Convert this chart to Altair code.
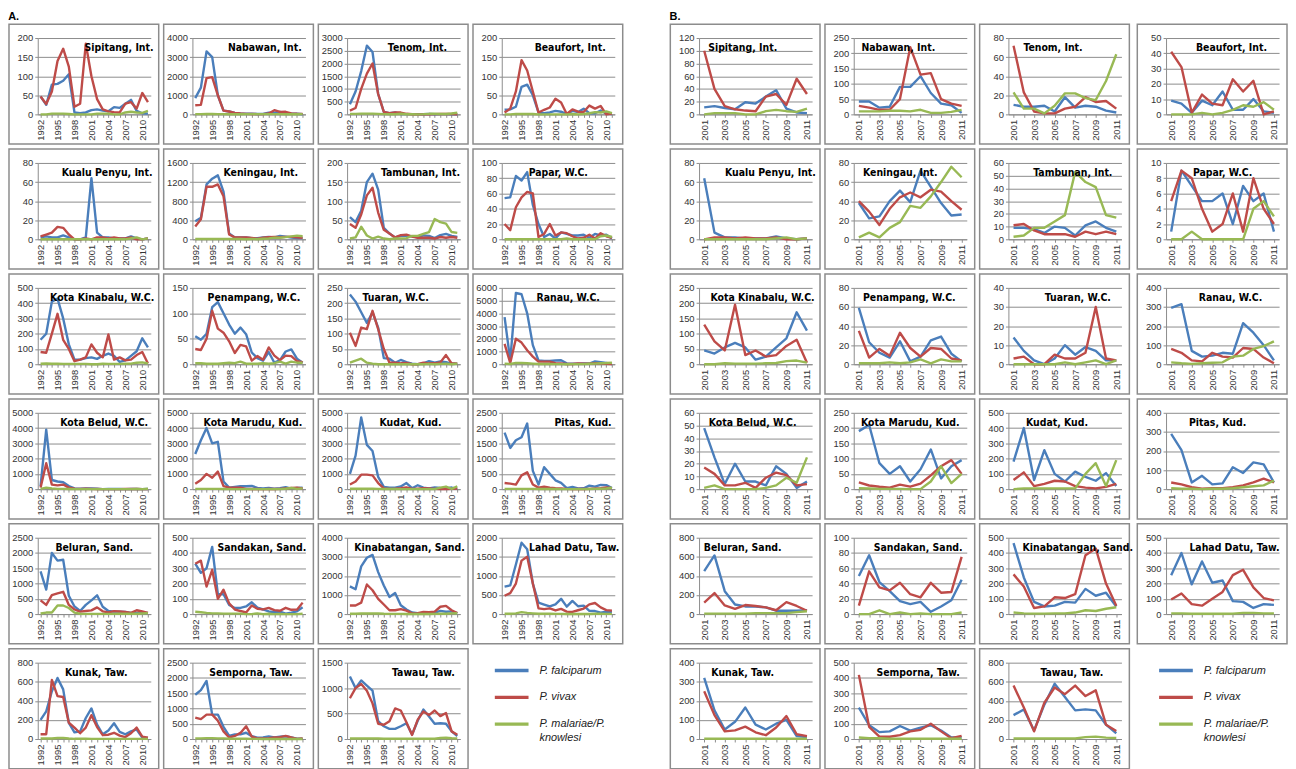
import altair as alt
import pandas as pd

SERIES = ["P. falciparum", "P. vivax", "P. malariae/P. knowlesi"]
LEGEND_LABELS = ["P. falciparum", "P. vivax", "P. malariae/P.\nknowlesi"]
COLORS = ["#4a7ebb", "#be4b48", "#98b954"]

YEARS_A = list(range(1992, 2012))
YEARS_B = list(range(2001, 2012))
LABELS_A = [1992, 1995, 1998, 2001, 2004, 2007, 2010]
LABELS_B = [2001, 2003, 2005, 2007, 2009, 2011]

DISTRICTS = ["Sipitang, Int.", "Nabawan, Int.", "Tenom, Int.", "Beaufort, Int.",
             "Kualu Penyu, Int.", "Keningau, Int.", "Tambunan, Int.", "Papar, W.C.",
             "Kota Kinabalu, W.C.", "Penampang, W.C.", "Tuaran, W.C.", "Ranau, W.C.",
             "Kota Belud, W.C.", "Kota Marudu, Kud.", "Kudat, Kud.", "Pitas, Kud.",
             "Beluran, Sand.", "Sandakan, Sand.", "Kinabatangan, Sand.", "Lahad Datu, Taw.",
             "Kunak, Taw.", "Semporna, Taw.", "Tawau, Taw."]

# y-axis maxima and steps
YMAX_A = [200, 4000, 3000, 200, 80, 1600, 200, 100, 500, 150, 250, 6000,
          5000, 5000, 5000, 2500, 2500, 500, 4000, 2000, 800, 2500, 1500]
YSTEP_A = [50, 1000, 500, 50, 20, 400, 50, 20, 100, 50, 50, 1000,
           1000, 1000, 1000, 500, 500, 100, 1000, 500, 200, 500, 500]
YMAX_B = [120, 250, 80, 50, 80, 80, 60, 10, 250, 80, 40, 400,
          60, 250, 500, 400, 800, 100, 500, 500, 400, 500, 800]
YSTEP_B = [20, 50, 20, 10, 20, 20, 10, 2, 50, 20, 10, 100,
           10, 50, 100, 100, 200, 20, 100, 100, 100, 100, 200]

# Panel A, 1992-2000 (2001-2011 are the same values as panel B)
PF_A_EARLY = [
    [47, 25, 78, 80, 88, 105, 5, 3, 5],
    [850, 1400, 3300, 3000, 1000, 200, 150, 80, 50],
    [400, 900, 1700, 2700, 2450, 800, 100, 50, 80],
    [12, 13, 20, 72, 78, 50, 5, 3, 5],
    [2, 3, 2, 2, 4, 2, 0, 0, 2],
    [380, 450, 1150, 1270, 1340, 1000, 120, 40, 40],
    [58, 45, 75, 150, 172, 130, 30, 15, 5],
    [54, 55, 83, 77, 88, 45, 20, 3, 7],
    [160, 200, 410, 430, 300, 130, 30, 30, 40],
    [55, 48, 60, 112, 122, 100, 78, 60, 72],
    [228, 205, 170, 135, 170, 120, 20, 18, 5],
    [3700, 300, 5600, 5500, 4000, 1500, 300, 250, 250],
    [200, 3900, 600, 500, 450, 200, 50, 30, 50],
    [2300, 3200, 4000, 3000, 3100, 500, 100, 150, 200],
    [1000, 2200, 4700, 2900, 2500, 800, 150, 100, 100],
    [1850, 1350, 1600, 1700, 2150, 600, 150, 720, 500],
    [1400, 800, 2000, 1750, 1780, 600, 250, 100, 300],
    [330, 270, 300, 440, 130, 130, 60, 40, 40],
    [1450, 1300, 2500, 2950, 3100, 2200, 1500, 900, 1100],
    [720, 750, 1300, 1870, 1700, 800, 300, 250, 200],
    [200, 290, 500, 640, 520, 170, 70, 80, 220],
    [1450, 1600, 1900, 800, 800, 400, 100, 150, 150],
    [1230, 1000, 1150, 1050, 950, 350, 250, 200, 200],
]
PV_A_EARLY = [
    [47, 27, 60, 140, 172, 125, 20, 28, 185],
    [480, 500, 1900, 1950, 1000, 200, 150, 80, 50],
    [150, 250, 1000, 1600, 2000, 800, 100, 50, 80],
    [5, 15, 60, 142, 115, 60, 5, 12, 18],
    [3, 5, 7, 13, 12, 5, 0, 0, 1],
    [270, 420, 1100, 1100, 1150, 900, 100, 40, 40],
    [40, 30, 65, 115, 135, 70, 25, 15, 5],
    [20, 12, 42, 55, 62, 60, 3, 7, 20],
    [80, 75, 200, 330, 160, 100, 20, 30, 45],
    [30, 28, 50, 105, 70, 62, 45, 22, 38],
    [103, 60, 120, 115, 175, 115, 50, 5, 5],
    [1600, 100, 2000, 1700, 1100, 600, 200, 200, 200],
    [100, 1700, 300, 250, 300, 100, 30, 20, 30],
    [350, 600, 1000, 750, 1150, 200, 100, 100, 100],
    [300, 500, 950, 950, 900, 400, 50, 20, 30],
    [200, 180, 150, 450, 550, 150, 50, 80, 50],
    [450, 300, 620, 680, 730, 300, 150, 80, 100],
    [330, 350, 180, 290, 100, 160, 70, 30, 20],
    [450, 450, 600, 1550, 1250, 800, 500, 200, 200],
    [480, 550, 800, 1400, 1500, 800, 150, 130, 150],
    [50, 50, 620, 450, 440, 170, 120, 60, 120],
    [700, 650, 800, 800, 600, 250, 50, 100, 200],
    [800, 1000, 1080, 950, 700, 300, 280, 350, 600],
]
PM_A_EARLY = [
    [0, 0, 2, 2, 2, 1, 0, 0, 0],
    [10, 10, 20, 20, 10, 10, 5, 5, 5],
    [20, 20, 30, 30, 30, 20, 10, 5, 5],
    [0, 0, 1, 1, 1, 1, 0, 0, 0],
    [0, 0, 0, 0, 0, 0, 0, 0, 0],
    [5, 5, 5, 5, 5, 5, 5, 5, 5],
    [2, 5, 33, 10, 2, 7, 2, 0, 2],
    [0, 0, 0, 0, 0, 0, 0, 0, 0],
    [3, 5, 3, 3, 2, 2, 2, 2, 2],
    [2, 2, 1, 1, 1, 2, 3, 2, 5],
    [5, 12, 18, 5, 2, 0, 0, 0, 0],
    [50, 20, 100, 100, 80, 50, 20, 20, 20],
    [20, 100, 50, 20, 20, 10, 5, 5, 5],
    [20, 20, 20, 20, 20, 10, 5, 5, 5],
    [30, 30, 30, 30, 30, 20, 10, 10, 10],
    [10, 10, 10, 10, 10, 10, 5, 5, 5],
    [20, 50, 50, 280, 280, 200, 50, 10, 5],
    [15, 12, 8, 5, 5, 3, 3, 3, 3],
    [20, 20, 30, 30, 30, 40, 20, 10, 10],
    [10, 10, 20, 50, 30, 20, 10, 10, 10],
    [5, 5, 5, 10, 10, 5, 2, 2, 2],
    [20, 20, 30, 30, 20, 20, 10, 10, 10],
    [10, 10, 10, 10, 10, 10, 5, 5, 5],
]

# Panel B, 2001-2011
PF_B = [
    [11, 13, 10, 8, 19, 17, 28, 38, 9, 3, 2],
    [42, 42, 22, 25, 90, 90, 125, 70, 35, 30, 5],
    [10, 8, 8, 9, 3, 18, 7, 9, 8, 4, 2],
    [9, 7, 1, 9, 6, 15, 3, 3, 10, 2, 1],
    [64, 7, 2, 2, 1, 1, 1, 3, 1, 0, 1],
    [38, 22, 24, 40, 51, 39, 72, 55, 38, 25, 26],
    [9, 9, 8, 5, 10, 9, 3, 11, 14, 9, 6],
    [1, 9, 7, 5, 5, 6, 2, 7, 5, 6, 1],
    [45, 35, 55, 70, 55, 15, 25, 55, 85, 170, 110],
    [59, 23, 12, 7, 24, 3, 8, 25, 29, 11, 3],
    [14, 7, 2, 0, 3, 10, 5, 9, 7, 2, 2],
    [295, 315, 70, 40, 45, 60, 55, 215, 165, 100, 20],
    [48, 25, 4, 20, 6, 6, 3, 18, 12, 1, 6],
    [190, 210, 85, 50, 75, 25, 65, 130, 35, 75, 95],
    [180, 400, 60, 255, 100, 50, 115, 80, 55, 105, 20],
    [290, 205, 35, 70, 25, 30, 115, 85, 140, 130, 35],
    [450, 615, 240, 100, 80, 80, 70, 35, 35, 35, 40],
    [50, 77, 42, 30, 17, 13, 16, 3, 10, 18, 45],
    [465, 240, 80, 50, 55, 80, 75, 165, 120, 140, 50],
    [255, 400, 195, 345, 205, 220, 85, 80, 40, 65, 60],
    [320, 150, 50, 90, 165, 75, 50, 80, 100, 15, 10],
    [205, 90, 45, 50, 85, 55, 75, 90, 55, 10, 10],
    [250, 310, 90, 360, 580, 440, 300, 310, 300, 150, 60],
]
PV_B = [
    [100, 40, 13, 8, 6, 5, 28, 32, 15, 56, 32],
    [28, 22, 15, 15, 50, 220, 130, 135, 50, 35, 28],
    [72, 23, 3, 1, 1, 6, 8, 18, 13, 14, 6],
    [41, 31, 1, 13, 7, 6, 23, 15, 22, 0, 2],
    [0, 2, 2, 1, 2, 1, 1, 2, 0, 0, 1],
    [40, 29, 15, 32, 44, 49, 44, 52, 50, 40, 31],
    [11, 12, 7, 4, 4, 4, 2, 6, 4, 6, 4],
    [5, 9, 8, 4, 1, 2, 6, 1, 8, 4, 2],
    [130, 75, 45, 195, 30, 45, 25, 30, 60, 80, 5],
    [35, 7, 16, 9, 33, 17, 8, 17, 16, 6, 4],
    [3, 4, 0, 0, 5, 3, 3, 6, 30, 3, 2],
    [80, 60, 20, 15, 60, 40, 35, 85, 80, 35, 5],
    [17, 12, 3, 3, 5, 1, 9, 13, 11, 3, 4],
    [22, 12, 8, 5, 15, 8, 18, 45, 75, 95, 50],
    [60, 110, 20, 35, 55, 50, 20, 10, 5, 15, 35],
    [35, 25, 10, 2, 5, 5, 10, 20, 35, 55, 35],
    [120, 220, 90, 55, 95, 85, 70, 40, 125, 85, 35],
    [11, 56, 35, 31, 41, 26, 22, 41, 28, 29, 75],
    [260, 180, 40, 50, 110, 105, 130, 385, 430, 200, 55],
    [95, 135, 65, 55, 100, 145, 255, 290, 175, 105, 90],
    [250, 125, 40, 45, 65, 35, 20, 60, 120, 25, 15],
    [420, 80, 15, 15, 25, 50, 60, 100, 50, 5, 20],
    [560, 330, 80, 380, 540, 470, 560, 450, 510, 150, 85],
]
PM_B = [
    [0, 2, 2, 2, 0, 0, 5, 7, 5, 4, 9],
    [10, 10, 10, 12, 12, 10, 15, 5, 5, 8, 15],
    [23, 6, 6, 1, 9, 22, 22, 17, 15, 35, 63],
    [0, 0, 0, 1, 0, 1, 3, 6, 5, 8, 3],
    [0, 0, 0, 0, 0, 0, 0, 1, 2, 0, 1],
    [2, 7, 2, 12, 18, 35, 33, 45, 60, 76, 65],
    [2, 3, 9, 9, 14, 19, 53, 45, 41, 19, 17],
    [0, 0, 1, 0, 0, 0, 0, 0, 4, 5, 3],
    [0, 0, 3, 2, 2, 2, 3, 4, 10, 12, 5],
    [1, 1, 1, 2, 1, 2, 5, 1, 5, 3, 3],
    [0, 0, 0, 0, 0, 1, 0, 1, 2, 0, 2],
    [10, 5, 2, 5, 8, 10, 40, 45, 80, 95, 120],
    [1, 3, 0, 0, 0, 0, 1, 3, 9, 5, 25],
    [3, 2, 1, 1, 1, 0, 0, 25, 75, 20, 50],
    [0, 5, 5, 5, 5, 5, 5, 100, 170, 20, 190],
    [5, 2, 2, 0, 2, 2, 5, 10, 15, 20, 45],
    [5, 5, 5, 5, 5, 10, 10, 10, 10, 20, 30],
    [0, 0, 5, 0, 2, 0, 1, 0, 0, 0, 2],
    [10, 5, 3, 3, 5, 5, 10, 25, 20, 35, 45],
    [5, 5, 2, 2, 2, 2, 3, 8, 8, 5, 5],
    [1, 1, 1, 1, 1, 1, 1, 1, 1, 1, 1],
    [10, 5, 5, 2, 2, 2, 2, 2, 2, 2, 2],
    [5, 5, 5, 5, 5, 5, 5, 20, 25, 15, 10],
]

# ---------------- layout / style (not data) ----------------
W, H = 114, 77
BOX_L, BOX_R, BOX_T, BOX_B = -29, W + 8, -14, H + 30
TITLE_X_A = [82, 73, 71, 69, 70, 69, 74, 57, 65, 62, 49, 67,
             67, 61, 64, 82, 57, 70, 63, 73, 59, 59, 77]
TITLE_X_B = [44, 45, 45, 66, 72, 47, 65, 57, 64, 56, 70, 65,
             54, 57, 49, 52, 44, 65, 70, 69, 44, 65, 64]
LABEL_FONT = "Liberation Sans"
TITLE_FONT = "DejaVu Sans Condensed, Liberation Sans"
BORDER = "#8c8c8c"
AXIS_GREY = "#8c8c8c"


def border_layer(visible=True):
    return alt.Chart(pd.DataFrame({"b": [0]})).mark_rect(
        fill="white", fillOpacity=0,
        stroke=BORDER if visible else "white", strokeOpacity=1 if visible else 0,
        strokeWidth=1.5,
    ).encode(x=alt.value(BOX_L), x2=alt.value(BOX_R),
             y=alt.value(BOX_T), y2=alt.value(BOX_B))


def make_cell(name, years, labels, pf, pv, pm, ymax, ystep, tx):
    rows = []
    for s, vals in zip(SERIES, [pf, pv, pm]):
        for yr, v in zip(years, vals):
            rows.append({"year": yr, "series": s, "cases": v})
    df = pd.DataFrame(rows)
    x = alt.X("year:Q", title=None,
              scale=alt.Scale(domain=[years[0] - 0.5, years[-1] + 0.5], nice=False, zero=False),
              axis=alt.Axis(values=years, format="d", labelAngle=270,
                            labelExpr=f"indexof({labels}, datum.value) >= 0 ? datum.label : ''",
                            labelOverlap=False, labelFlush=False, grid=False,
                            tickSize=3, labelPadding=2))
    y = alt.Y("cases:Q", title=None,
              scale=alt.Scale(domain=[0, ymax], nice=False, zero=True),
              axis=alt.Axis(values=list(range(0, ymax + 1, ystep)), format="d",
                            grid=True, tickSize=3, labelPadding=2,
                            labelFlush=False, labelOverlap=False))
    base = alt.Chart(df).encode(x=x, y=y)
    lines = [
        base.transform_filter(alt.datum.series == s).mark_line(
            color=c, strokeWidth=2.4, strokeJoin="round")
        for s, c in zip(SERIES, COLORS)
    ]
    title = alt.Chart(pd.DataFrame({"t": [name]})).mark_text(
        font=TITLE_FONT, fontWeight="bold", fontSize=10.5, color="#000000",
        align="center", baseline="middle",
    ).encode(text="t:N", x=alt.value(tx), y=alt.value(10))
    return alt.layer(border_layer(), *lines, title).properties(width=W, height=H)


def make_legend():
    ldf = pd.DataFrame({"series": SERIES, "label": LEGEND_LABELS})
    yenc = alt.Y("series:N", sort=SERIES, axis=None,
                 scale=alt.Scale(type="point", range=[8, 62], padding=0))
    cenc = alt.Color("series:N", legend=None,
                     scale=alt.Scale(domain=SERIES, range=COLORS))
    rules = alt.Chart(ldf).mark_rule(strokeWidth=3.5).encode(
        x=alt.value(-7), x2=alt.value(27), y=yenc, color=cenc)
    texts = alt.Chart(ldf).mark_text(
        align="left", baseline="top", dy=-6, fontSize=11, fontStyle="italic",
        font=LABEL_FONT, lineBreak="\n", color="#222222", lineHeight=14,
    ).encode(x=alt.value(38), y=yenc, text="label:N")
    return alt.layer(border_layer(False), rules, texts).properties(width=W, height=H)


def make_panel(letter, years, labels, pf_list, pv_list, pm_list, ymax, ystep, tx_list):
    cells = []
    for i, name in enumerate(DISTRICTS):
        cells.append(make_cell(name, years, labels, pf_list[i], pv_list[i], pm_list[i],
                               ymax[i], ystep[i], tx_list[i]))
    cells.append(make_legend())
    return alt.concat(*cells, columns=4, spacing=3).resolve_scale(
        x="independent", y="independent").properties(
        title=alt.TitleParams(letter, anchor="start", fontSize=11, fontWeight="bold",
                              font=LABEL_FONT, offset=1, frame="bounds"))


PF_A = [PF_A_EARLY[i] + PF_B[i] for i in range(len(DISTRICTS))]
PV_A = [PV_A_EARLY[i] + PV_B[i] for i in range(len(DISTRICTS))]
PM_A = [PM_A_EARLY[i] + PM_B[i] for i in range(len(DISTRICTS))]

panel_a = make_panel("A.", YEARS_A, LABELS_A, PF_A, PV_A, PM_A, YMAX_A, YSTEP_A, TITLE_X_A)
panel_b = make_panel("B.", YEARS_B, LABELS_B, PF_B, PV_B, PM_B, YMAX_B, YSTEP_B, TITLE_X_B)

chart = alt.hconcat(panel_a, panel_b, spacing=46).properties(
    padding=0, background="white"
).configure_view(stroke=None).configure_axis(
    labelFont=LABEL_FONT, labelFontSize=9.5, labelColor="#333333",
    domainColor=AXIS_GREY, tickColor=AXIS_GREY, gridColor=AXIS_GREY,
    domainWidth=1, tickWidth=1, gridWidth=1,
)

chart.save("out.html", embed_options={"renderer": "svg", "actions": False})
